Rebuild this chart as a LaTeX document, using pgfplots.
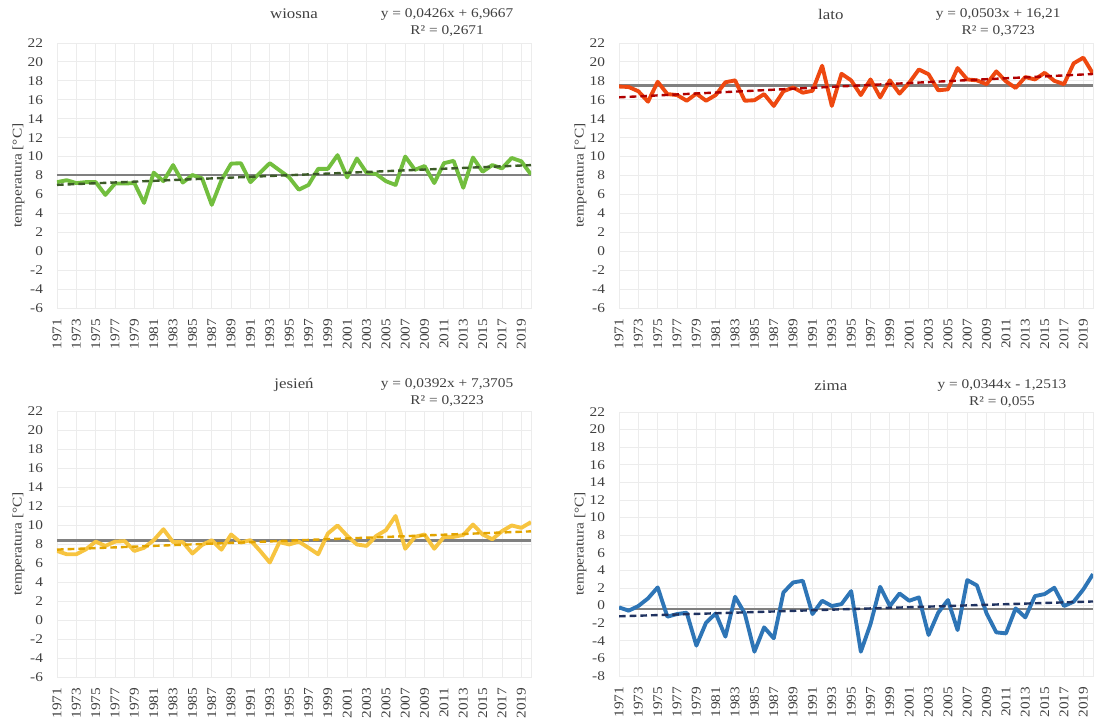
\documentclass[border=0pt]{standalone}
\usepackage{fontspec}
\setmainfont{Liberation Serif}[FakeStretch=1.15]
\usepackage{pgfplots}
\pgfplotsset{compat=1.18}
\usepackage{pgfplotstable}

\definecolor{cgreen}{RGB}{114,190,62}
\definecolor{tgreen}{RGB}{60,90,40}
\definecolor{corange}{RGB}{238,72,16}
\definecolor{tred}{RGB}{176,0,0}
\definecolor{cyellow}{RGB}{247,196,64}
\definecolor{tgold}{RGB}{226,164,0}
\definecolor{cblue}{RGB}{46,117,182}
\definecolor{tnavy}{RGB}{31,50,96}
\definecolor{meangray}{RGB}{128,128,128}
\definecolor{gridgray}{RGB}{236,236,236}
\definecolor{labgray}{RGB}{64,64,64}

\pgfplotstableread{
year val
1971 7.3
1972 7.5
1973 7.2
1974 7.3
1975 7.3
1976 5.95
1977 7.15
1978 7.15
1979 7.2
1980 5.1
1981 8.3
1982 7.4
1983 9.1
1984 7.25
1985 8.05
1986 7.7
1987 4.9
1988 7.5
1989 9.25
1990 9.3
1991 7.3
1992 8.3
1993 9.3
1994 8.55
1995 7.8
1996 6.5
1997 7.0
1998 8.7
1999 8.7
2000 10.15
2001 7.8
2002 9.8
2003 8.3
2004 8.15
2005 7.4
2006 7.0
2007 10.0
2008 8.6
2009 9.0
2010 7.2
2011 9.3
2012 9.55
2013 6.7
2014 9.9
2015 8.4
2016 9.1
2017 8.75
2018 9.85
2019 9.5
2020 8.1
}\wiosna

\pgfplotstableread{
year val
1971 17.4
1972 17.35
1973 16.9
1974 15.8
1975 17.9
1976 16.6
1977 16.5
1978 15.9
1979 16.65
1980 15.9
1981 16.5
1982 17.85
1983 18.05
1984 15.9
1985 15.95
1986 16.6
1987 15.35
1988 16.9
1989 17.3
1990 16.75
1991 16.95
1992 19.6
1993 15.35
1994 18.75
1995 18.05
1996 16.5
1997 18.15
1998 16.25
1999 18.05
2000 16.65
2001 17.8
2002 19.2
2003 18.7
2004 17.0
2005 17.1
2006 19.35
2007 18.15
2008 18.05
2009 17.65
2010 19.0
2011 17.95
2012 17.25
2013 18.4
2014 18.15
2015 18.85
2016 18.0
2017 17.65
2018 19.85
2019 20.45
2020 18.75
}\lato

\pgfplotstableread{
year val
1971 7.27
1972 6.92
1973 6.92
1974 7.45
1975 8.25
1976 7.8
1977 8.25
1978 8.3
1979 7.27
1980 7.6
1981 8.4
1982 9.55
1983 8.2
1984 8.2
1985 7.0
1986 7.9
1987 8.4
1988 7.4
1989 9.0
1990 8.15
1991 8.4
1992 7.27
1993 6.05
1994 8.2
1995 7.95
1996 8.25
1997 7.6
1998 6.92
1999 9.1
2000 9.95
2001 8.85
2002 7.95
2003 7.8
2004 8.85
2005 9.45
2006 10.95
2007 7.5
2008 8.75
2009 9.0
2010 7.5
2011 8.75
2012 8.75
2013 8.95
2014 10.05
2015 9.0
2016 8.5
2017 9.35
2018 9.95
2019 9.7
2020 10.3
}\jesien

\pgfplotstableread{
year val
1971 -0.2
1972 -0.58
1973 -0.05
1974 0.82
1975 2.07
1976 -1.26
1977 -0.96
1978 -0.81
1979 -4.55
1980 -1.94
1981 -0.89
1982 -3.53
1983 1.0
1984 -0.89
1985 -5.24
1986 -2.47
1987 -3.72
1988 1.5
1989 2.63
1990 2.82
1991 -0.96
1992 0.55
1993 -0.05
1994 0.17
1995 1.65
1996 -5.24
1997 -2.1
1998 2.14
1999 -0.05
2000 1.38
2001 0.55
2002 0.93
2003 -3.34
2004 -0.81
2005 0.63
2006 -2.78
2007 2.9
2008 2.29
2009 -0.89
2010 -3.04
2011 -3.16
2012 -0.32
2013 -1.34
2014 1.08
2015 1.31
2016 2.03
2017 -0.05
2018 0.44
2019 1.84
2020 3.58
}\zima

\pgfplotsset{
  panel/.style={
    scale only axis, width=355.5pt, height=198.75pt,
    xmin=1971, xmax=2020, ymin=-6, ymax=22,
    xtick={1971,1973,...,2019}, ytick={-6,-4,...,22},
    grid=major, major grid style={draw=gridgray, line width=0.7pt},
    axis line style={draw=gridgray, line width=0.7pt},
    major tick length=0pt,
    tick label style={font=\fontsize{10}{12}\selectfont, text=labgray},
    xticklabel style={rotate=90, anchor=east, xshift=-4.5pt},
    yticklabel style={anchor=east, xshift=-7pt},
    /pgf/number format/1000 sep={},
    /pgf/number format/assume math mode=true,
    ylabel={temperatura [°C]},
    ylabel style={at={(rel axis cs:0,0.5)}, anchor=center, yshift=29pt, font=\fontsize{10}{12}\selectfont, text=labgray},
    clip mode=individual,
  },
  dataline/.style={line width=2.9pt, line join=round},
  meanline/.style={meangray, line width=1.9pt},
  trendline/.style={line width=1.8pt, dash pattern=on 5pt off 3pt},
}
\tikzset{
  ttl/.style={font=\fontsize{11}{13}\selectfont, text=labgray, anchor=center},
  eqn/.style={font=\fontsize{10}{12.5}\selectfont, text=labgray, align=center, anchor=center},
}

\begin{document}
\begin{tikzpicture}
\useasboundingbox (0,0) rectangle (825pt,540pt);

% wiosna
\begin{axis}[panel, at={(42.75pt,309pt)}, anchor=south west]
\addplot[meanline] coordinates {(1971,8.05) (2020,8.05)};
\addplot[dataline, cgreen] table[x=year,y=val] {\wiosna};
\addplot[trendline, tgreen] coordinates {(1971,7.009) (2020,9.097)};
\node[ttl] at (rel axis cs:0.5,1) [yshift=21.75pt] {wiosna};
\node[eqn] at (rel axis cs:0.823,1) [yshift=15.5pt] {y = 0,0426x + 6,9667\\R² = 0,2671};
\end{axis}

% lato
\begin{axis}[panel, at={(464.25pt,309pt)}, anchor=south west]
\addplot[meanline] coordinates {(1971,17.49) (2020,17.49)};
\addplot[dataline, corange] table[x=year,y=val] {\lato};
\addplot[trendline, tred] coordinates {(1971,16.26) (2020,18.725)};
\node[ttl] at (rel axis cs:0.447,1) [yshift=21.75pt] {lato};
\node[eqn] at (rel axis cs:0.80,1) [yshift=15.5pt] {y = 0,0503x + 16,21\\R² = 0,3723};
\end{axis}

% jesien
\begin{axis}[panel, height=199.5pt, at={(42.75pt,32.25pt)}, anchor=south west]
\addplot[meanline] coordinates {(1971,8.37) (2020,8.37)};
\addplot[dataline, cyellow] table[x=year,y=val] {\jesien};
\addplot[trendline, tgold] coordinates {(1971,7.41) (2020,9.33)};
\node[ttl] at (rel axis cs:0.5,1) [yshift=19.5pt] {jesień};
\node[eqn] at (rel axis cs:0.823,1) [yshift=14pt] {y = 0,0392x + 7,3705\\R² = 0,3223};
\end{axis}

% zima
\begin{axis}[panel, height=198pt, ymin=-8, ytick={-8,-6,...,22}, at={(464.25pt,33pt)}, anchor=south west]
\addplot[meanline] coordinates {(1971,-0.374) (2020,-0.374)};
\addplot[dataline, cblue] table[x=year,y=val] {\zima};
\addplot[trendline, tnavy] coordinates {(1971,-1.217) (2020,0.469)};
\node[ttl] at (rel axis cs:0.447,1) [yshift=19.5pt] {zima};
\node[eqn] at (rel axis cs:0.808,1) [yshift=14pt] {y = 0,0344x - 1,2513\\R² = 0,055};
\end{axis}
\end{tikzpicture}
\end{document}
